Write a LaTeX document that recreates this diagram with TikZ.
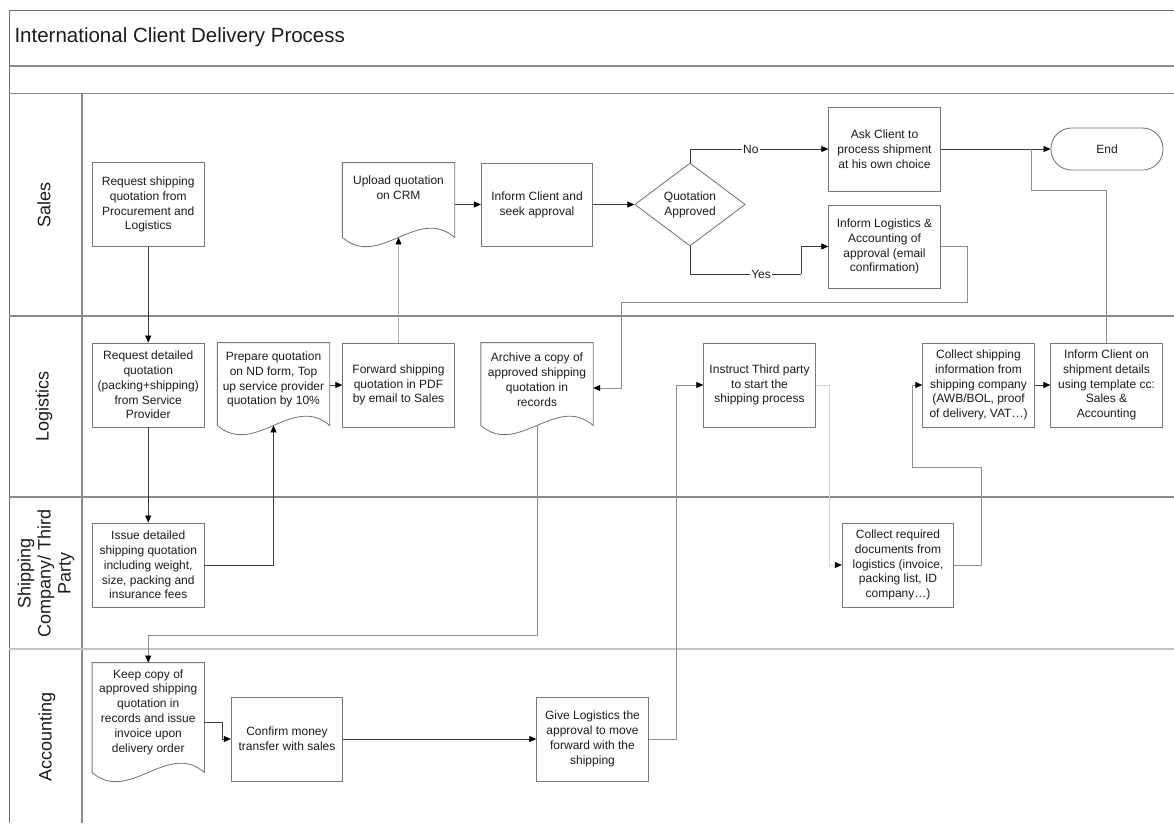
\documentclass[tikz,border=0pt]{standalone}
\usepackage{fontspec}
\setmainfont{Liberation Sans}
\usetikzlibrary{arrows.meta,shapes.geometric,calc}

\definecolor{frameline}{HTML}{6E6E6E}
\definecolor{laneline}{HTML}{8A8A8A}
\definecolor{softline}{HTML}{C4C4C4}
\definecolor{boxline}{HTML}{767676}
\definecolor{txt}{HTML}{1C1C1C}
\definecolor{conndark}{HTML}{3C3C3C}
\definecolor{connmid}{HTML}{8E8E8E}
\definecolor{connlight}{HTML}{B2B2B2}
\definecolor{connpale}{HTML}{D4D4D4}

% document shape: outline from the node top down to a wavy bottom edge
% #1 node name, #2 distance of the wave midline below the node's south edge
\newcommand{\docwave}[2]{%
  \draw[docline] let \p1=(#1.north west), \p2=(#1.south east) in
    (\x1,{\y2-#2pt}) -- (\x1,\y1) -- (\x2,\y1) -- (\x2,{\y2-#2pt})
    .. controls ({\x2-37pt},{\y2-#2pt+32pt}) and ({\x1+37pt},{\y2-#2pt-32pt}) .. cycle;
  \coordinate (#1-wave) at ($(#1.south)+(0,#2)$);
}

\begin{document}
\begin{tikzpicture}[x=1pt,y=-1pt,
  every node/.style={text=txt},
  box/.style={draw=boxline, fill=white, line width=0.85pt, minimum width=111.5pt,
    minimum height=84pt, inner sep=2pt, align=center,
    font={\fontsize{12}{14.8}\selectfont}},
  docbox/.style={box, draw=none, fill=none},
  docline/.style={draw=boxline, line width=0.85pt},
  decision/.style={diamond, draw=boxline, fill=white, line width=0.85pt, aspect=1.33,
    minimum width=110.5pt, minimum height=83pt, inner sep=0pt, align=center,
    font={\fontsize{12}{14.8}\selectfont}},
  terminal/.style={draw=boxline, fill=white, line width=0.85pt, rounded corners=20.5pt,
    minimum width=112pt, minimum height=42pt, align=center,
    font={\fontsize{12}{14.8}\selectfont}},
  lanelabel/.style={rotate=90, align=center, font={\fontsize{18}{20}\selectfont}},
  flowlabel/.style={fill=white, inner sep=1pt, font={\fontsize{12}{14}\selectfont}},
  conn/.style={draw=conndark, line width=0.8pt,
    -{Triangle[length=7pt,width=6pt,color=black,fill=black]}},
  plain/.style={draw=conndark, line width=0.8pt},
]
\useasboundingbox (0,0) rectangle (1174,823);

% ---- pool frame, title and swimlanes ----
\draw[frameline, line width=1pt] (9,823) -- (9,10) -- (1174,10);
\draw[laneline, line width=1.6pt] (9,66) -- (1174,66);
\draw[laneline, line width=1pt] (9,93) -- (1174,93);
\draw[laneline, line width=1.1pt] (82,93) -- (82,823);
\draw[laneline, line width=1.2pt] (9,316) -- (1174,316);
\draw[laneline, line width=1.2pt] (9,497) -- (1174,497);
\draw[softline, line width=1.2pt] (9,649) -- (1174,649);

\node[anchor=west, font={\fontsize{20.5}{24}\selectfont}] (title) at (11,37)
  {International Client Delivery Process};

\node[lanelabel] (lsales) at (44,204.5) {Sales};
\node[lanelabel] (llog) at (44,406) {Logistics};
\node[lanelabel] (lship) at (46,573) {Shipping\\Company/ Third\\Party};
\node[lanelabel] (lacc) at (47,737) {Accounting};

% ---- Sales ----
\node[box] (req1) at (148.25,204.5) {Request shipping\\quotation from\\Procurement and\\Logistics};
\node[docbox, minimum height=50pt] (upload) at (398.5,188) {Upload quotation\\on CRM};
\docwave{upload}{24}
\node[box, minimum height=83pt] (inform1) at (537,204.5) {Inform Client and\\seek approval};
\node[decision] (dia) at (690,204.5) {Quotation\\Approved};
\node[box] (ask) at (884.5,149) {Ask Client to\\process shipment\\at his own choice};
\node[box, minimum height=83pt] (informLA) at (884.5,246.5) {Inform Logistics \&\\Accounting of\\approval (email\\confirmation)};
\node[terminal] (end) at (1107,149) {End};

% ---- Logistics ----
\node[box] (req2) at (148.25,385) {Request detailed\\quotation\\(packing+shipping)\\from Service\\Provider};
\node[docbox, minimum height=73pt] (prep) at (273.5,379.5) {Prepare quotation\\on ND form, Top\\up service provider\\quotation by 10\%};
\docwave{prep}{9}
\node[box] (fwd) at (398.5,385) {Forward shipping\\quotation in PDF\\by email to Sales};
\node[docbox, minimum height=73pt] (arch) at (537,379.5) {Archive a copy of\\approved shipping\\quotation in\\records};
\docwave{arch}{9}
\node[box] (instr) at (759.5,385) {Instruct Third party\\to start the\\shipping process};
\node[box] (collinfo) at (978.5,385) {Collect shipping\\information from\\shipping company\\(AWB/BOL, proof\\of delivery, VAT…)};
\node[box] (inform2) at (1106.5,385) {Inform Client on\\shipment details\\using template cc:\\Sales \&\\Accounting};

% ---- Shipping Company / Third Party ----
\node[box] (issue) at (148.25,565) {Issue detailed\\shipping quotation\\including weight,\\size, packing and\\insurance fees};
\node[box] (collreq) at (898,565) {Collect required\\documents from\\logistics (invoice,\\packing list, ID\\company…)};

% ---- Accounting ----
\node[docbox, minimum height=98pt] (keep) at (148.25,712) {Keep copy of\\approved shipping\\quotation in\\records and issue\\invoice upon\\delivery order};
\docwave{keep}{11}
\node[box] (confirm) at (287,739) {Confirm money\\transfer with sales};
\node[box] (give) at (592.5,739) {Give Logistics the\\approval to move\\forward with the\\shipping};

% ---- bend points ----
\coordinate (yesbend) at (801,274);
\coordinate (la1) at (967,302);
\coordinate (la2) at (621,302);
\coordinate (archbend) at (148.25,635);
\coordinate (keepbend) at (222,739);
\coordinate (givebend) at (676.5,385);
\coordinate (instrbend) at (829,565);
\coordinate (cr1) at (981.5,467);
\coordinate (cr2) at (912.5,467);
\coordinate (ib) at (1031,190.5);
\coordinate (ijoin) at (1031,149);

% ---- connectors ----
\draw[conn] (req1) -- (req2);
\draw[conn] (req2) -- (issue);
\draw[conn] (issue.east) -| (prep-wave);
\draw[conn] (fwd.west -| prep.east) -- (fwd.west);
\draw[conn, draw=connlight] (fwd.north) -- (upload-wave);
\draw[conn] (inform1.west -| upload.east) -- (inform1.west);
\draw[conn] (inform1.east) -- (dia.west);
\draw[conn] (dia.north) |- node[flowlabel, pos=0.72] (nolbl) {No} (ask.west);
\draw[plain] (dia.south) |- node[flowlabel, pos=0.82] (yeslbl) {Yes} (yesbend);
\draw[conn] (yesbend) |- (informLA.west);
\draw[conn] (ask.east) -- (end.west);
\draw[conn, draw=connmid] (informLA.east) -| (la1) -- (la2) |- ([yshift=-8.5pt]arch.east);
\draw[conn, draw=connmid] (arch-wave) |- (archbend) -- (keep.north);
\draw[conn] ([yshift=-10pt]keep.east) -| (keepbend) -- (confirm.west);
\draw[conn] (confirm.east) -- (give.west);
\draw[conn, draw=connmid] (give.east) -| (givebend) -- (instr.west);
\draw[conn, draw=connpale] (instr.east) -| (instrbend) -- (collreq.west);
\draw[conn, draw=connmid] (collreq.east) -| (cr1) -- (cr2) |- (collinfo.west);
\draw[conn] (collinfo.east) -- (inform2.west);
\draw[plain, draw=connmid] (inform2.north) |- (ib) -- (ijoin);
\end{tikzpicture}
\end{document}
